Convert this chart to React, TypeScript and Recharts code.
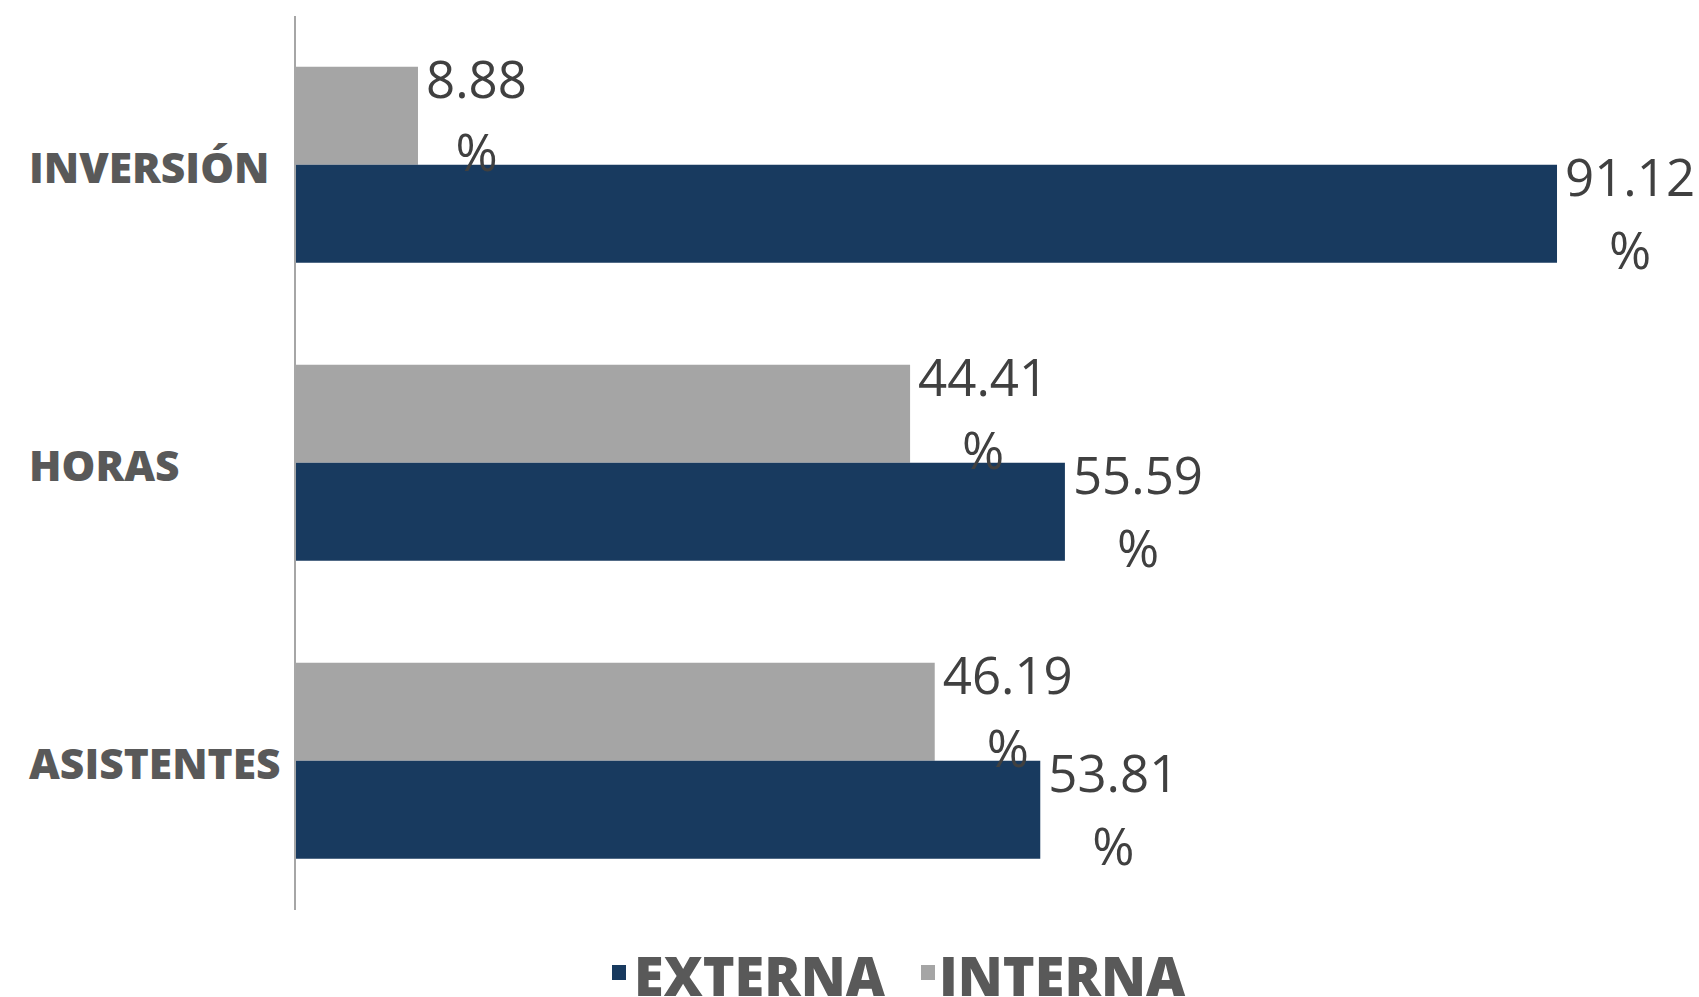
import { Bar, BarChart, Legend, XAxis, YAxis } from "recharts";

const categories = ["INVERSIÓN", "HORAS", "ASISTENTES"];
const interna = [8.88, 44.41, 46.19];
const externa = [91.12, 55.59, 53.81];

const NAVY = "#183a5f";
const GRAY = "#a5a5a5";
const FONT = "'Open Sans', 'Noto Sans', sans-serif";

const rows = categories.map((name, i) => ({ name, interna: interna[i], externa: externa[i] }));

const LABEL_SIZE = 51;

function textWidth(s: string) {
  let w = 0;
  for (const ch of s) w += ch === "." ? 0.266 : 0.572;
  return w * LABEL_SIZE;
}

function PercentLabel(props: any) {
  const { x, y, width, height, value } = props;
  const num = Number(value).toFixed(2);
  const start = x + width + 8;
  const cy = y + height / 2;
  const mid = start + textWidth(num) / 2;
  return (
    <g fill="#404040" fontFamily={FONT} fontSize={LABEL_SIZE}>
      <text x={start} y={cy - 18} textAnchor="start">{num}</text>
      <text x={mid} y={cy + 55} textAnchor="middle">%</text>
    </g>
  );
}

function CategoryTick(props: any) {
  const { y, payload } = props;
  return (
    <text x={29} y={y + 18} textAnchor="start" fill="#595959" fontFamily={FONT} fontSize={42.5} fontWeight={800}>
      {payload.value}
    </text>
  );
}

function LegendBox() {
  const item = (color: string, label: string, gap: number) => (
    <div style={{ display: "flex", alignItems: "center" }}>
      <span style={{ width: 14, height: 15, background: color, marginRight: gap, marginTop: -6 }} />
      <span>{label}</span>
    </div>
  );
  return (
    <div
      style={{
        display: "flex",
        height: 87,
        boxSizing: "border-box",
        paddingTop: 43,
        paddingLeft: 612,
        gap: 36,
        fontFamily: FONT,
        fontSize: 54,
        lineHeight: "40px",
        fontWeight: 800,
        color: "#595959",
      }}
    >
      {item(NAVY, "EXTERNA", 8)}
      {item(GRAY, "INTERNA", 4)}
    </div>
  );
}

export default function App() {
  return (
    <div style={{ position: "absolute", left: 0, top: 0, background: "#fff" }}>
      <BarChart
        width={1699}
        height={997}
        data={rows}
        layout="vertical"
        margin={{ top: 16, right: 19, left: 0, bottom: 0 }}
        barCategoryGap="17%"
        barGap={0}
      >
        <XAxis type="number" domain={[0, 100]} hide />
        <YAxis
          type="category"
          dataKey="name"
          width={295}
          axisLine={{ stroke: "#a6a6a6", strokeWidth: 2 }}
          tickLine={false}
          tick={<CategoryTick />}
        />
        <Legend verticalAlign="bottom" align="left" height={87} content={() => <LegendBox />} wrapperStyle={{ left: 0, width: 1699 }} />
        <Bar dataKey="interna" fill={GRAY} isAnimationActive={false} label={<PercentLabel />} />
        <Bar dataKey="externa" fill={NAVY} isAnimationActive={false} label={<PercentLabel />} />
      </BarChart>
    </div>
  );
}
